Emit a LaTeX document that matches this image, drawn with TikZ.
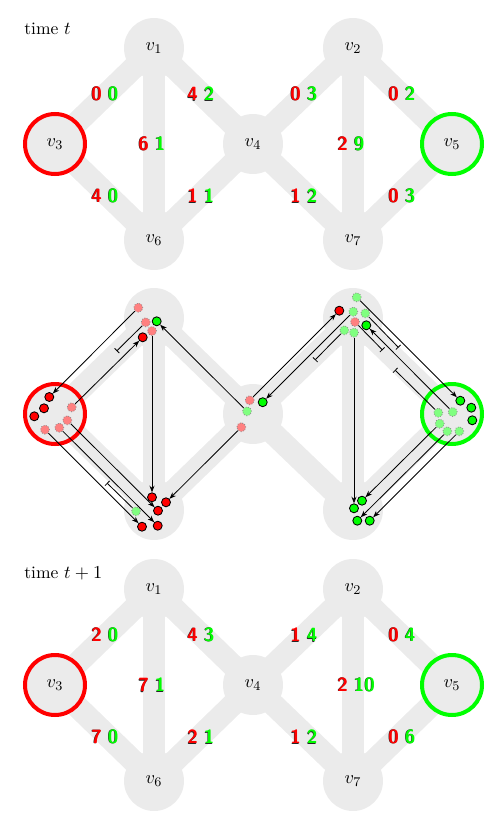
\documentclass[tikz,border=0pt]{standalone}
\usetikzlibrary{arrows.meta,calc,backgrounds}
\newcommand\shd[2]{\rlap{\kern-0.35pt\raisebox{-0.35pt}{\color{black!85}#2}}{\color{#1}#2}}
\newcommand\lab[2]{\shd{red}{#1}\hspace{3.6pt}\shd{green}{#2}}
\begin{document}
\begin{tikzpicture}[x=0.6pt,y=-0.6pt,
  edge/.style={line width=13.5pt, draw=black!8},
  vert/.style={circle, fill=black!8, minimum size=36pt, inner sep=0pt, font=\fontsize{11}{13}\selectfont},
  elab/.style={anchor=west, inner sep=0pt, font=\sffamily\bfseries\fontsize{11.5}{14}\selectfont},
  sdot/.style={circle, minimum size=5.4pt, inner sep=0pt, draw=black, line width=0.5pt},
  fdot/.style={circle, minimum size=5.4pt, inner sep=0pt, draw=black!45, densely dotted, line width=0.5pt},
  mv/.style={-{Stealth[length=4pt,width=3pt]}, line width=0.5pt},
  blk/.style={-{Bar[width=4pt]}, line width=0.5pt},
  ttl/.style={anchor=base west, inner sep=0pt, font=\fontsize{10.5}{12}\selectfont}
]
\useasboundingbox (0,0) rectangle (503,826);

% three copies of the graph
\foreach \p/\dy/\show in {a/0/1,b/270/0,c/541/1}{
  \node[vert] (\p1) at (154,48+\dy) {\ifnum\show=1 $v_1$\fi};
  \node[vert] (\p2) at (353,48+\dy) {\ifnum\show=1 $v_2$\fi};
  \node[vert, draw=red, line width=2.4pt] (\p3) at (55,144+\dy) {\ifnum\show=1 $v_3$\fi};
  \node[vert] (\p4) at (253,144+\dy) {\ifnum\show=1 $v_4$\fi};
  \node[vert, draw=green, line width=2.4pt] (\p5) at (452,144+\dy) {\ifnum\show=1 $v_5$\fi};
  \node[vert] (\p6) at (154,240+\dy) {\ifnum\show=1 $v_6$\fi};
  \node[vert] (\p7) at (353,240+\dy) {\ifnum\show=1 $v_7$\fi};
  \begin{pgfonlayer}{background}
    \foreach \u/\w in {3/1,1/4,1/6,3/6,6/4,4/2,4/7,2/7,2/5,7/5}
      \draw[edge] (\p\u.center) -- (\p\w.center);
  \end{pgfonlayer}
}

% titles
\node[ttl] (ta) at (24,35) {time $t$};
\node[ttl] (tc) at (24,578) {time $t+1$};

% edge labels, time t
\node[elab] (la31) at (91,94) {\lab{0}{0}};
\node[elab] (la14) at (187,94) {\lab{4}{2}};
\node[elab] (la16) at (138,144) {\lab{6}{1}};
\node[elab] (la36) at (91,196) {\lab{4}{0}};
\node[elab] (la64) at (187,196) {\lab{1}{1}};
\node[elab] (la42) at (290,94) {\lab{0}{3}};
\node[elab] (la25) at (388,94) {\lab{0}{2}};
\node[elab] (la27) at (337,144) {\lab{2}{9}};
\node[elab] (la47) at (290,196) {\lab{1}{2}};
\node[elab] (la75) at (388,196) {\lab{0}{3}};

% edge labels, time t+1
\node[elab] (lc31) at (91,635) {\lab{2}{0}};
\node[elab] (lc14) at (187,635) {\lab{4}{3}};
\node[elab] (lc16) at (138,685) {\lab{7}{1}};
\node[elab] (lc36) at (91,737) {\lab{7}{0}};
\node[elab] (lc64) at (187,737) {\lab{2}{1}};
\node[elab] (lc42) at (290,635) {\lab{1}{4}};
\node[elab] (lc25) at (388,635) {\lab{0}{4}};
\node[elab] (lc27) at (337,685) {\lab{2}{10}};
\node[elab] (lc47) at (290,737) {\lab{1}{2}};
\node[elab] (lc75) at (388,737) {\lab{0}{6}};

% middle panel: agents
% v1
\node[fdot, fill=red!50] (f1) at (138.3,307.7) {};
\node[fdot, fill=red!50] (f2) at (145.7,322.3) {};
\node[sdot, fill=green] (s1) at (156.7,321.3) {};
\node[fdot, fill=red!50] (f3) at (152,331) {};
\node[sdot, fill=red] (s2) at (142.7,337.3) {};
% v3
\node[sdot, fill=red] (s3) at (49.3,397) {};
\node[sdot, fill=red] (s4) at (44,408.3) {};
\node[sdot, fill=red] (s5) at (34.3,416.3) {};
\node[fdot, fill=red!50] (f4) at (71.7,407.3) {};
\node[fdot, fill=red!50] (f5) at (67.3,420.3) {};
\node[fdot, fill=red!50] (f6) at (59.3,427.7) {};
\node[fdot, fill=red!50] (f7) at (45,429.7) {};
% v6
\node[sdot, fill=red] (s6) at (152,497.3) {};
\node[sdot, fill=red] (s7) at (166,502.3) {};
\node[sdot, fill=red] (s8) at (158,510.7) {};
\node[fdot, fill=green!50] (f8) at (136,511.3) {};
\node[sdot, fill=red] (s9) at (142,526.7) {};
\node[sdot, fill=red] (s10) at (157.7,525.7) {};
% v4
\node[fdot, fill=red!50] (f9) at (249.7,400.3) {};
\node[fdot, fill=green!50] (f10) at (247,411.3) {};
\node[sdot, fill=green] (s11) at (262.7,402.2) {};
\node[fdot, fill=red!50] (f11) at (241.3,427.2) {};
% v2
\node[fdot, fill=green!50] (f12) at (356.7,297.3) {};
\node[sdot, fill=red] (s12) at (339.3,310.7) {};
\node[fdot, fill=green!50] (f13) at (353.3,311.7) {};
\node[fdot, fill=green!50] (f14) at (365.3,313.3) {};
\node[fdot, fill=red!50] (f15) at (355,322) {};
\node[sdot, fill=green] (s13) at (366.3,325.3) {};
\node[fdot, fill=green!50] (f16) at (344.3,330.3) {};
\node[fdot, fill=green!50] (f17) at (354,332.7) {};
% v5
\node[sdot, fill=green] (s14) at (460.3,400.7) {};
\node[sdot, fill=green] (s15) at (471.3,407.7) {};
\node[sdot, fill=green] (s16) at (472.3,420.3) {};
\node[fdot, fill=green!50] (f18) at (438.3,412.7) {};
\node[fdot, fill=green!50] (f19) at (452.7,412) {};
\node[fdot, fill=green!50] (f20) at (439.7,423.7) {};
\node[fdot, fill=green!50] (f21) at (447.3,431.3) {};
\node[fdot, fill=green!50] (f22) at (459.3,431.3) {};
% v7
\node[sdot, fill=green] (s17) at (362,500.7) {};
\node[sdot, fill=green] (s18) at (354,508.3) {};
\node[sdot, fill=green] (s19) at (357.3,520.7) {};
\node[sdot, fill=green] (s20) at (369.7,520.7) {};

% blocked-move ends
\coordinate (b1) at (116.7,351);
\coordinate (b2) at (107,483);
\coordinate (b3) at (315,360);
\coordinate (b4) at (398.5,347.5);
\coordinate (b5) at (382.5,350);
\coordinate (b6) at (395,370);

% moves
\draw[mv] (f1) -- (s3);
\draw[mv] (f4) -- (s2);
\draw[mv] (f3) -- (s6);
\draw[mv] (f10) -- (s1);
\draw[mv] (f11) -- (s7);
\draw[mv] (f5) -- (s8);
\draw[mv] (f6) -- (s10);
\draw[mv] (f7) -- (s9);
\draw[mv] (f9) -- (s12);
\draw[mv] (f13) -- (s11);
\draw[mv] (f17) -- (s18);
\draw[mv] (f12) -- (s14);
\draw[mv] (f19) -- (s13);
\draw[mv] (f20) -- (s17);
\draw[mv] (f21) -- (s19);
\draw[mv] (f22) -- (s20);
% blocked moves
\draw[blk] (f2) -- (b1);
\draw[blk] (f8) -- (b2);
\draw[blk] (f16) -- (b3);
\draw[blk] (f14) -- (b4);
\draw[blk] (f15) -- (b5);
\draw[blk] (f18) -- (b6);
\end{tikzpicture}
\end{document}
